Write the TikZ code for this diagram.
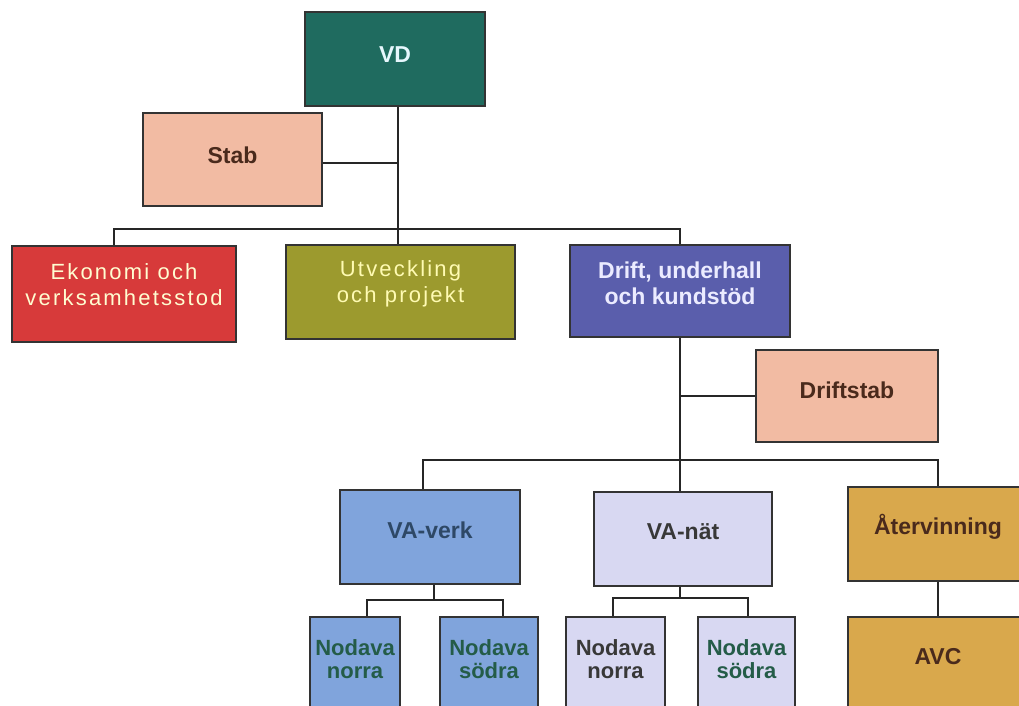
\documentclass[tikz,border=0pt]{standalone}
\usepackage{fontspec}
\setmainfont{Liberation Sans}
\begin{document}
\begin{tikzpicture}[x=1pt,y=-1pt,
  box/.style={draw=black!80, line width=1.2pt, inner sep=0pt},
  lbl/.style={align=center, inner sep=0pt, font=\bfseries\fontsize{23}{26}\selectfont},
  slbl/.style={lbl, font=\bfseries\fontsize{22}{23}\selectfont},
  wlbl/.style={lbl, font=\fontsize{22}{26}\selectfont\addfontfeatures{LetterSpace=10}},
  conn/.style={draw=black!85, line width=1.4pt}]
\definecolor{cVD}{HTML}{1F6B5F}
\definecolor{cStab}{HTML}{F2BBA3}
\definecolor{cEko}{HTML}{D73A3A}
\definecolor{cUtv}{HTML}{9C9A2E}
\definecolor{cDrift}{HTML}{5A5EAC}
\definecolor{cVAv}{HTML}{80A4DC}
\definecolor{cVAn}{HTML}{D8D8F2}
\definecolor{cAter}{HTML}{D9A84C}
\definecolor{tBrown}{HTML}{4A2A1C}
\definecolor{tGreen}{HTML}{245C48}
\definecolor{tBlue}{HTML}{2E4866}
\definecolor{tDark}{HTML}{383838}
\useasboundingbox (0,0) rectangle (1019,705);
\clip (0,0) rectangle (1019,705);
\fill[white] (0,0) rectangle (1019,705);
% boxes
\node[box, fill=cVD, minimum width=180, minimum height=94] (vd) at (395,59) {};
\node[box, fill=cStab, minimum width=179, minimum height=93] (stab) at (232.5,159.5) {};
\node[box, fill=cEko, minimum width=224, minimum height=96] (eko) at (124,294) {};
\node[box, fill=cUtv, minimum width=229, minimum height=94] (utv) at (400.5,292) {};
\node[box, fill=cDrift, minimum width=220, minimum height=92] (drift) at (680,291) {};
\node[box, fill=cStab, minimum width=182, minimum height=92] (dstab) at (847,396) {};
\node[box, fill=cVAv, minimum width=180, minimum height=94] (vav) at (430,537) {};
\node[box, fill=cVAn, minimum width=178, minimum height=94] (van) at (683,539) {};
\node[box, fill=cAter, minimum width=180, minimum height=94] (ater) at (938,534) {};
\node[box, fill=cVAv, minimum width=90, minimum height=92] (vn) at (355,663) {};
\node[box, fill=cVAv, minimum width=98, minimum height=92] (vs) at (489,663) {};
\node[box, fill=cVAn, minimum width=99, minimum height=92] (nn) at (615.5,663) {};
\node[box, fill=cVAn, minimum width=97, minimum height=92] (ns) at (746.5,663) {};
\node[box, fill=cAter, minimum width=180, minimum height=92] (avc) at (938,663) {};
% labels
\node[lbl, text=white!90!cyan] (tvd) at ([yshift=4]vd.center) {VD};
\node[lbl, text=tBrown] (tstab) at ([yshift=4]stab.center) {Stab};
\node[wlbl, text=white!82!yellow] (teko) at ([yshift=9]eko.center) {Ekonomi och\\verksamhetsstod};
\node[wlbl, text=yellow!30!white] (tutv) at ([yshift=8]utv.center) {Utveckling\\och projekt};
\node[lbl, text=white!92!blue] (tdrift) at ([yshift=8]drift.center) {Drift, underhall\\och kundstöd};
\node[lbl, text=tBrown] (tdstab) at ([yshift=6]dstab.center) {Driftstab};
\node[lbl, text=tBlue] (tvav) at ([yshift=7]vav.center) {VA-verk};
\node[lbl, text=tDark] (tvan) at ([yshift=7]van.center) {VA-nät};
\node[lbl, text=tBrown] (tater) at ([yshift=7]ater.center) {Återvinning};
\node[slbl, text=tGreen] (tvn) at (355,659) {Nodava\\norra};
\node[slbl, text=tGreen] (tvs) at (489,659) {Nodava\\södra};
\node[slbl, text=tDark] (tnn) at (615.5,659) {Nodava\\norra};
\node[slbl, text=tGreen] (tns) at (746.5,659) {Nodava\\södra};
\node[lbl, text=tBrown] (tavc) at (938,657) {AVC};
% connectors
\coordinate (j1) at (398,229);
\coordinate (j2) at (680,460);
\coordinate (s1) at (398,163);
\draw[conn] (vd.south -| j1) -- (j1);
\draw[conn] (stab.east |- s1) -- (s1);
\draw[conn] (eko.north -| 114,0) -- (114,229) -- (680,229) -- (drift.north);
\draw[conn] (j1) -- (utv.north -| j1);
\draw[conn] (drift.south) -- (j2);
\draw[conn] (dstab.west) -- (dstab.west -| j2);
\draw[conn] (vav.north -| 423,0) -- (423,460) -- (938,460) -- (ater.north);
\draw[conn] (j2) -- (van.north -| j2);
\draw[conn] (vav.south -| 434,0) -- (434,600);
\draw[conn] (vn.north -| 367,0) -- (367,600) -- (503,600) -- (vs.north -| 503,0);
\draw[conn] (van.south -| 680,0) -- (680,598);
\draw[conn] (nn.north -| 613,0) -- (613,598) -- (748,598) -- (ns.north -| 748,0);
\draw[conn] (ater.south) -- (avc.north);
\end{tikzpicture}
\end{document}
